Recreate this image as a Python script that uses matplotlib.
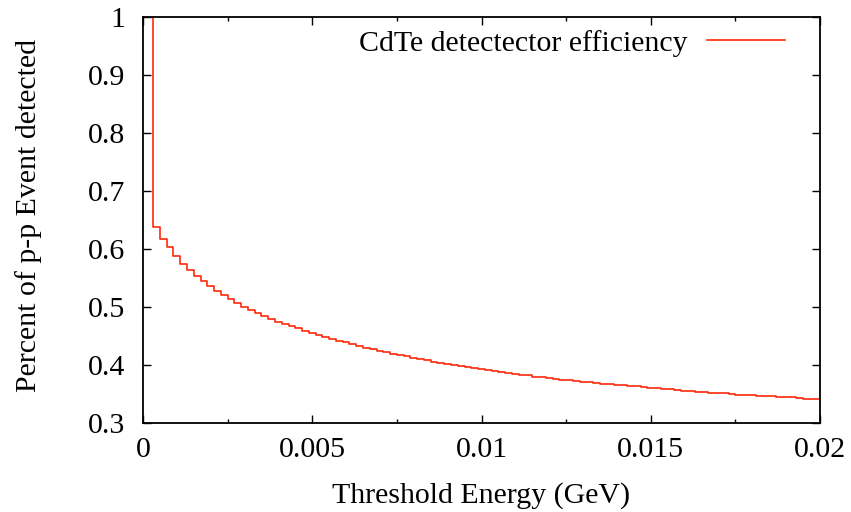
import numpy as np
import matplotlib
matplotlib.use('Agg')
import matplotlib.pyplot as plt
from matplotlib.ticker import MultipleLocator

# threshold energies (GeV), one per histogram step
energy = np.round(np.arange(1, 101) * 0.0002, 4)

# fraction of p-p events detected at each threshold
efficiency = [
    1.0,
    0.638, 0.618, 0.603, 0.588, 0.575, 0.564, 0.553, 0.544, 0.536, 0.528,
    0.521, 0.514, 0.507, 0.500, 0.495,
    0.490, 0.485, 0.480, 0.475, 0.471, 0.467, 0.463, 0.459, 0.455,
    0.452, 0.448, 0.445, 0.442, 0.439, 0.436, 0.433, 0.430, 0.427, 0.424,
    0.422, 0.419, 0.417, 0.415, 0.412, 0.410, 0.408, 0.406, 0.404, 0.402,
    0.400, 0.398, 0.396, 0.395, 0.393, 0.391, 0.390, 0.388, 0.386, 0.385,
    0.383, 0.382, 0.380, 0.379, 0.378, 0.376, 0.375, 0.374, 0.373, 0.371,
    0.370, 0.369, 0.368, 0.367, 0.366, 0.365, 0.364, 0.363, 0.362, 0.361,
    0.360, 0.359, 0.358, 0.357, 0.356, 0.355, 0.354, 0.353, 0.352, 0.352,
    0.351, 0.350, 0.349, 0.348, 0.348, 0.347, 0.346, 0.346, 0.345, 0.344,
    0.344, 0.343, 0.342, 0.342, 0.341,
]

xticks = [0, 0.005, 0.01, 0.015, 0.02]
xticklabels = ['0', '0.005', '0.01', '0.015', '0.02']
yticks = [0.3, 0.4, 0.5, 0.6, 0.7, 0.8, 0.9, 1.0]
yticklabels = ['0.3', '0.4', '0.5', '0.6', '0.7', '0.8', '0.9', '1']

plt.rcParams['font.family'] = ['Liberation Serif', 'DejaVu Serif']
plt.rcParams['font.size'] = 21.5

fig = plt.figure(figsize=(8.51, 5.12), dpi=100)
ax = fig.add_axes([143 / 851, 1 - 423 / 512, (820 - 143) / 851, (423 - 17) / 512])

ax.step(energy, efficiency, where='mid', color='#ff2a0a', lw=1.2,
        label='CdTe detectector efficiency')

ax.set_xlim(0, 0.02)
ax.set_ylim(0.3, 1.0)
ax.set_xticks(xticks)
ax.set_xticklabels(xticklabels)
ax.set_yticks(yticks)
ax.set_yticklabels(yticklabels)
ax.xaxis.set_minor_locator(MultipleLocator(0.0025))

ax.tick_params(which='both', direction='in', top=True, right=True, width=1, color='black')
ax.tick_params(which='major', length=6)
ax.tick_params(which='minor', length=3)
ax.tick_params(axis='x', pad=10)
ax.tick_params(axis='y', pad=13)
for s in ax.spines.values():
    s.set_linewidth(1.3)

ax.set_xlabel('Threshold Energy (GeV)')
ax.set_ylabel('Percent of p-p Event detected')
ax.xaxis.set_label_coords(0.5, -0.145)
ax.yaxis.set_label_coords(-0.149, 0.51)

ax.legend(loc='upper right', bbox_to_anchor=(0.966, 0.998), frameon=False,
          markerfirst=False, handlelength=2.6, handletextpad=0.67,
          borderaxespad=0)

fig.savefig('out.png', dpi=100)
